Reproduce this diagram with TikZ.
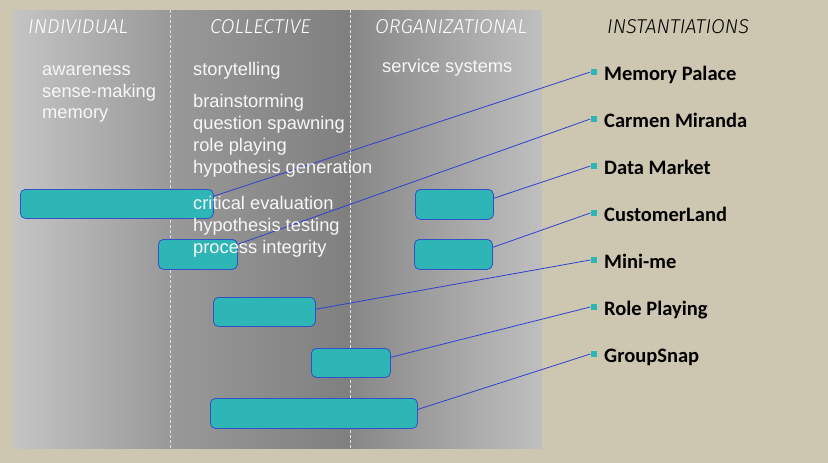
\documentclass[tikz,border=0pt]{standalone}
\usepackage{fontspec}
\setmainfont{Liberation Sans}
\newfontfamily\lblfont{Carlito}
\newfontfamily\hdrfont{Fira Sans Light}[ItalicFont={Fira Sans Light Italic}]
\usetikzlibrary{calc}
\definecolor{bgbeige}{HTML}{CDC6B0}
\definecolor{tealfill}{HTML}{2EB5B5}
\definecolor{boxedge}{HTML}{3350C8}
\definecolor{linkblue}{HTML}{3040D0}
\tikzset{
  hdr/.style={anchor=base west, inner sep=0, text=white, font=\hdrfont\fontsize{20}{24}\selectfont\itshape},
  body/.style={anchor=base west, inner sep=0, text=white!94!gray, font=\fontsize{18.3}{22}\selectfont},
  inst/.style={anchor=base west, inner sep=0, text=black, font=\lblfont\bfseries\fontsize{20.5}{24}\selectfont},
  tbox/.style={draw=boxedge, fill=tealfill, line width=0.8pt, rounded corners=5pt, anchor=north west, inner sep=0},
  sqmark/.style={fill=tealfill, minimum size=6pt, inner sep=0},
  conn/.style={draw=linkblue, line width=0.8pt},
  colsep/.style={draw=white!75!gray, line width=1pt, dash pattern=on 3pt off 2pt}
}
\begin{document}
\begin{tikzpicture}[x=1pt,y=-1pt]
\useasboundingbox (0,0) rectangle (828,463);
\fill[bgbeige] (0,0) rectangle (828,463);
% column panels
\shade[left color=black!23, right color=black!40] (13,10) rectangle (170,448);
\shade[left color=black!40, right color=black!50] (170,10) rectangle (350,448);
\shade[left color=black!47, right color=black!25] (350,10) rectangle (542,448);
\draw[colsep] (170,10) -- (170,448);
\draw[colsep] (350,10) -- (350,448);
% headers
\node[hdr] (hI) at (28,33) {INDIVIDUAL};
\node[hdr] (hC) at (210,33) {COLLECTIVE};
\node[hdr] (hO) at (375,33) {ORGANIZATIONAL};
\node[hdr, text=black] (hN) at (607,33) {INSTANTIATIONS};
% boxes
\node[tbox, minimum width=193pt, minimum height=29pt] (b1) at (20,189) {};
\node[tbox, minimum width=79pt, minimum height=30pt] (b2) at (158,239) {};
\node[tbox, minimum width=78pt, minimum height=30pt] (b3) at (415,189) {};
\node[tbox, minimum width=78pt, minimum height=30pt] (b4) at (414,239) {};
\node[tbox, minimum width=102pt, minimum height=29pt] (b5) at (213,297) {};
\node[tbox, minimum width=79pt, minimum height=29pt] (b6) at (311,348) {};
\node[tbox, minimum width=207pt, minimum height=30pt] (b7) at (210,398) {};
% markers
\node[sqmark] (m1) at (593.5,72) {};
\node[sqmark] (m2) at (593.5,119) {};
\node[sqmark] (m3) at (593.5,166) {};
\node[sqmark] (m4) at (593.5,213) {};
\node[sqmark] (m5) at (593.5,260) {};
\node[sqmark] (m6) at (593.5,307) {};
\node[sqmark] (m7) at (593.5,354) {};
% connectors
\draw[conn] ($(b1.north east)!0.24!(b1.south east)$) -- (m1.west);
\draw[conn] ($(b2.north east)!0.17!(b2.south east)$) -- (m2.west);
\draw[conn] ($(b3.north east)!0.30!(b3.south east)$) -- (m3.west);
\draw[conn] ($(b4.north east)!0.27!(b4.south east)$) -- (m4.west);
\draw[conn] ($(b5.north east)!0.41!(b5.south east)$) -- (m5.west);
\draw[conn] ($(b6.north east)!0.31!(b6.south east)$) -- (m6.west);
\draw[conn] ($(b7.north east)!0.37!(b7.south east)$) -- (m7.west);
% body text
\node[body] (t1) at (42,75) {awareness};
\node[body] (t2) at (42,97) {sense-making};
\node[body] (t3) at (42,118) {memory};
\node[body] (c1) at (193,75) {storytelling};
\node[body] (c2) at (193,107) {brainstorming};
\node[body] (c3) at (193,129) {question spawning};
\node[body] (c4) at (193,151) {role playing};
\node[body] (c5) at (193,173) {hypothesis generation};
\node[body] (c6) at (193,209) {critical evaluation};
\node[body] (c7) at (193,231) {hypothesis testing};
\node[body] (c8) at (193,253) {process integrity};
\node[body] (o1) at (382,72) {service systems};
% instantiation labels
\node[inst] (l1) at (604,80) {Memory Palace};
\node[inst] (l2) at (604,127) {Carmen Miranda};
\node[inst] (l3) at (604,174) {Data Market};
\node[inst] (l4) at (604,221) {CustomerLand};
\node[inst] (l5) at (604,268) {Mini-me};
\node[inst] (l6) at (604,315) {Role Playing};
\node[inst] (l7) at (604,362) {GroupSnap};
\end{tikzpicture}
\end{document}
